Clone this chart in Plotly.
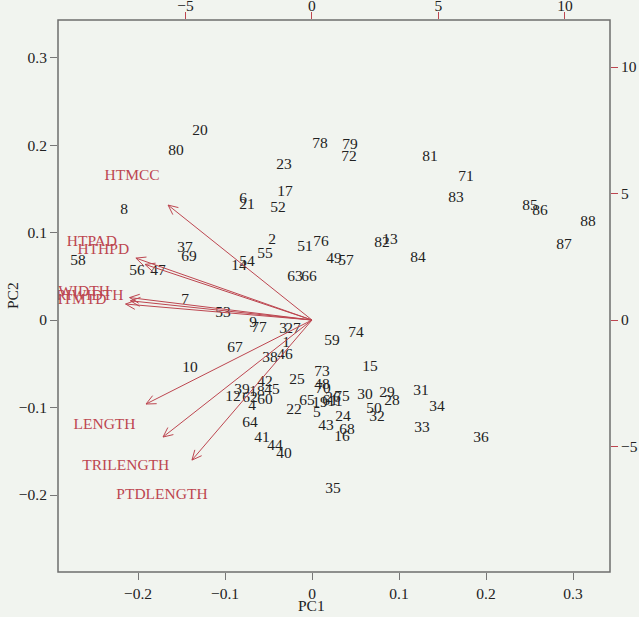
import plotly.graph_objects as go
import math

# ---- observation scores (PC1, PC2) ----
obs_labels = ["1","2","3","4","5","6","7","8","9","10","11","12","13","14","15","16","17","18","19","20",
              "21","22","23","24","25","26","27","28","29","30","31","32","33","34","35","36","37","38","39","40",
              "41","42","43","44","45","46","47","48","49","50","51","52","53","54","55","56","57","58","59","60",
              "61","62","63","64","65","66","67","68","69","70","71","72","73","74","75","76","77","78","79","80",
              "81","82","83","84","85","86","87","88"]
pc1 = [-0.0299,-0.0460,-0.0333,-0.0690,0.0057,-0.0793,-0.1460,-0.2161,-0.0678,-0.1402,
       0.0264,-0.0908,0.0897,-0.0839,0.0667,0.0345,-0.0310,-0.0632,0.0092,-0.1287,
       -0.0747,-0.0207,-0.0322,0.0356,-0.0172,0.0241,-0.0218,0.0920,0.0862,0.0609,
       0.1253,0.0747,0.1264,0.1437,0.0241,0.1943,-0.1460,-0.0483,-0.0805,-0.0322,
       -0.0575,-0.0540,0.0161,-0.0425,-0.0460,-0.0310,-0.1770,0.0115,0.0253,0.0713,
       -0.0080,-0.0391,-0.1023,-0.0747,-0.0540,-0.2011,0.0391,-0.2690,0.0230,-0.0540,
       0.0207,-0.0713,-0.0195,-0.0713,-0.0057,-0.0034,-0.0885,0.0402,-0.1414,0.0126,
       0.1770,0.0425,0.0115,0.0506,0.0345,0.0103,-0.0609,0.0092,0.0437,-0.1563,
       0.1356,0.0805,0.1655,0.1218,0.2506,0.2621,0.2897,0.3172]
pc2 = [-0.0263,0.0915,-0.0103,-0.0984,-0.1064,0.1384,0.0229,0.1259,-0.0034,-0.0549,
       -0.0938,-0.0881,0.0915,0.0618,-0.0538,-0.1339,0.1465,-0.0824,-0.0950,0.2162,
       0.1316,-0.1030,0.1773,-0.1110,-0.0686,-0.0892,-0.0103,-0.0927,-0.0835,-0.0858,
       -0.0812,-0.1110,-0.1236,-0.0995,-0.1934,-0.1350,0.0824,-0.0435,-0.0801,-0.1533,
       -0.1350,-0.0709,-0.1213,-0.1442,-0.0801,-0.0400,0.0561,-0.0744,0.0698,-0.1018,
       0.0835,0.1281,0.0080,0.0664,0.0755,0.0561,0.0675,0.0675,-0.0240,-0.0915,
       -0.0927,-0.0892,0.0492,-0.1178,-0.0927,0.0492,-0.0320,-0.1259,0.0721,-0.0789,
       0.1636,0.1865,-0.0595,-0.0149,-0.0881,0.0892,-0.0092,0.2014,0.2002,0.1934,
       0.1865,0.0881,0.1396,0.0709,0.1304,0.1247,0.0858,0.1121]

# ---- variable loadings (top/right axis units) ----
var_labels = ["HTMCC","HTPAD","HTHPD","WIDTH","TRIWIDTH","HTMTD","LENGTH","TRILENGTH","PTDLENGTH"]
load1 = [-7.11,-8.70,-8.25,-9.01,-8.97,-9.21,-8.20,-7.36,-5.93]
load2 = [5.68,3.06,2.75,1.11,0.95,0.79,-4.15,-5.78,-6.92]

x_ticks = [-0.2,-0.1,0,0.1,0.2,0.3]
y_ticks = [-0.2,-0.1,0,0.1,0.2,0.3]
x2_ticks = [-5,0,5,10]
y2_ticks = [-5,0,5,10]

BG = "#f1f4ef"
RED = "#bd4650"
FONT = "Times New Roman, Liberation Serif, serif"
TXT = "#222222"
FS = 15.5

fig = go.Figure()

fig.add_trace(go.Scatter(x=pc1, y=pc2, mode="text", text=obs_labels,
                         textfont=dict(family=FONT, size=FS, color=TXT),
                         hoverinfo="skip", showlegend=False))

# arrows (to 0.8 * loadings, as in R biplot), with open heads
ax, ay = [], []
L = 0.42
for u, v in zip(load1, load2):
    tx, ty = 0.8 * u, 0.8 * v
    ax += [0, tx, None]
    ay += [0, ty, None]
    n = math.hypot(tx, ty)
    dx, dy = -tx / n, -ty / n
    for s in (1, -1):
        a = math.radians(25) * s
        bx = dx * math.cos(a) - dy * math.sin(a)
        by = dx * math.sin(a) + dy * math.cos(a)
        ax += [tx, tx + L * bx, None]
        ay += [ty, ty + L * by, None]

fig.add_trace(go.Scatter(x=ax, y=ay, mode="lines", xaxis="x2", yaxis="y2",
                         line=dict(color=RED, width=1), hoverinfo="skip", showlegend=False))
fig.add_trace(go.Scatter(x=load1, y=load2, mode="text", text=var_labels, xaxis="x2", yaxis="y2",
                         textfont=dict(family=FONT, size=FS, color=RED),
                         hoverinfo="skip", showlegend=False))

axis_common = dict(showgrid=False, zeroline=False, ticks="outside", ticklen=7,
                   tickfont=dict(family=FONT, size=FS, color=TXT), showline=False,
                   automargin=False)

fig.update_layout(
    width=639, height=617,
    margin=dict(l=58, r=29, t=20, b=45),
    paper_bgcolor=BG, plot_bgcolor=BG,
    xaxis=dict(range=[-0.292, 0.3425], tickvals=x_ticks,
               ticktext=["\u22120.2", "\u22120.1", "0", "0.1", "0.2", "0.3"],
               tickcolor="#777", **axis_common),
    yaxis=dict(range=[-0.288, 0.343], tickvals=y_ticks,
               ticktext=["\u22120.2", "\u22120.1", "0", "0.1", "0.2", "0.3"],
               tickcolor="#777", **axis_common),
    xaxis2=dict(range=[-10.04, 11.78], tickvals=x2_ticks,
                ticktext=["\u22125", "0", "5", "10"], ticklabelstandoff=-5,
                overlaying="x", side="top", anchor="y", tickcolor=RED, **axis_common),
    yaxis2=dict(range=[-9.96, 11.86], tickvals=y2_ticks,
                ticktext=["\u22125", "0", "5", "10"],
                overlaying="y", side="right", anchor="x", tickcolor=RED, **axis_common),
    shapes=[dict(type="rect", xref="paper", yref="paper", x0=0, y0=0, x1=1, y1=1,
                 line=dict(color="#6e6e6e", width=1.5), fillcolor="rgba(0,0,0,0)")],
    annotations=[
        dict(text="PC1", xref="paper", yref="paper", x=0.46, y=0, yshift=-33,
             showarrow=False, yanchor="middle", font=dict(family=FONT, size=FS, color=TXT)),
        dict(text="PC2", xref="paper", yref="paper", x=0, y=0.5, xshift=-46,
             showarrow=False, textangle=-90, xanchor="center",
             font=dict(family=FONT, size=FS, color=TXT)),
    ],
)

fig.write_html("out.html")
